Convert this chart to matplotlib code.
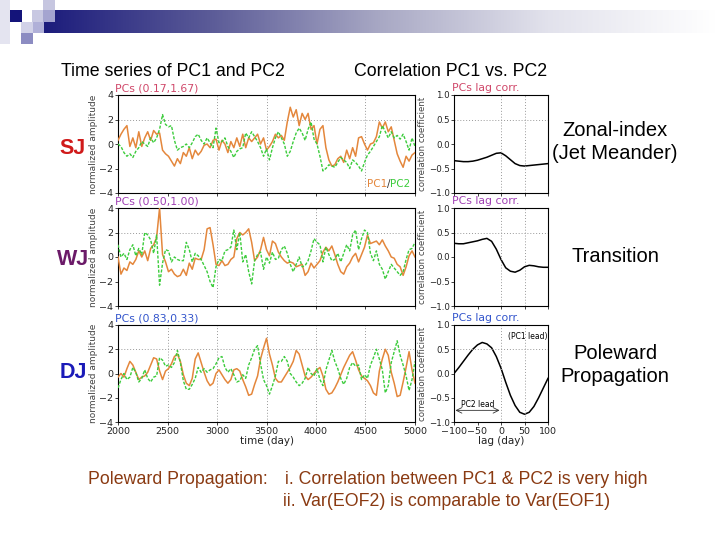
import numpy as np
import matplotlib
matplotlib.use("Agg")
import matplotlib.pyplot as plt
from matplotlib.patches import Rectangle
from matplotlib.colors import LinearSegmentedColormap

# time axis of the PC series (day) and lag axis of the correlations (day)
days = np.arange(2000, 5001, 30)
lags = np.arange(-100, 101, 10)

# SJ : PCs (0.17,1.67)
sj_pc1 = [0.3, 0.8, 1.2, 1.5, -0.2, 0.5, -0.3, 1.0, -0.2, 0.5,
          1.0, 0.3, 1.1, 0.8, 0.9, -0.5, -0.8, -1.0, -1.4, -1.8,
          -1.2, -1.6, -0.7, -1.0, -0.3, -1.2, -0.5, -0.9, -0.6, -0.1,
          0.0, -0.3, 0.3, 0.4, -0.5, 0.3, 0.0, -0.7, 0.2, -0.3,
          0.5, -0.2, 0.8, -0.3, 0.5, 0.2, 0.5, 0.8, 0.0, 0.5,
          -0.5, -0.2, 0.2, 0.8, 0.5, 0.7, 0.3, 1.8, 3.0, 2.2,
          2.8, 1.5, 2.5, 2.0, 2.5, 1.2, 1.5, 0.0, 1.2, 1.5,
          -0.3, -1.3, -1.8, -1.7, -1.2, -1.0, -1.5, -0.5, -1.2, -0.3,
          -1.0, 0.5, 0.6, 0.0, -0.5, 0.0, 0.1, 0.6, 1.8, 1.3,
          1.8, 1.0, 1.4, 0.3, -0.8, -1.4, -1.9, -1.0, -1.4, -0.9,
          -0.7]
sj_pc2 = [0.0, -0.2, -0.7, -1.0, -0.8, -1.1, -0.6, -0.3, 0.2, 0.0,
          -0.2, 0.5, 0.1, 0.5, 1.2, 2.4, 1.6, 1.4, 1.5, 0.3,
          -0.5, -0.3, -0.2, 0.0, -0.3, 0.1, 0.6, 0.8, 0.3, 0.0,
          0.5, 0.1, -0.3, 1.3, 0.1, 0.2, 0.5, -0.2, -0.6, -1.1,
          -0.6, -0.4, -0.3, 0.9, 0.5, 1.0, 0.6, 0.2, -0.3, -1.0,
          -0.4, -1.3, -0.3, 0.5, 1.0, 0.5, 0.0, -1.0, -0.6, 0.2,
          0.9, 1.3, 0.9, 0.3, 1.2, 1.8, 0.4, 0.0, -1.0, -2.2,
          -2.0, -1.7, -1.8, -1.9, -1.5, -1.1, -1.3, -1.5, -2.0, -1.3,
          -1.5, -1.8, -2.2, -1.5, -0.9, -0.6, -0.2, 0.2, 0.6, 1.5,
          1.0, 0.5, 1.0, 0.5, 0.7, 0.4, 0.8, 0.2, -0.5, 0.5,
          -0.2]
sj_corr = [-0.34, -0.35, -0.36, -0.36, -0.35, -0.33, -0.30, -0.27, -0.23, -0.19,
           -0.18, -0.24, -0.32, -0.40, -0.44, -0.45, -0.44, -0.43, -0.42, -0.41,
           -0.40]

# WJ : PCs (0.50,1.00)
wj_pc1 = [0.0, -1.4, -0.9, -1.1, -0.4, -0.6, -0.2, 0.5, 0.0, 0.5,
          -0.3, 0.7, 1.0, 1.6, 4.0, 0.2, -0.4, -1.2, -1.0, -1.4,
          -1.6, -1.5, -1.0, -1.5, -0.5, -1.0, -0.1, -0.2, -0.2, 0.6,
          2.3, 2.4, 1.0, -0.6, -0.7, -0.3, -0.7, -0.6, -0.2, 0.0,
          1.5, 2.0, 1.8, 2.0, 2.3, 1.2, -0.3, 0.0, 0.6, 1.6,
          0.6, 0.1, 1.3, 1.1, 0.4, 0.0, -0.3, -0.5, -0.4, -0.5,
          -0.8, -0.7, -0.6, -1.5, -1.2, -0.5, -0.9, -0.6, -0.3, 0.4,
          0.8, 0.5, 0.9, 0.2, -0.6, -1.2, -1.4, -0.8, -0.5, 0.0,
          0.3, -0.4, 0.2, 0.8, 1.8, 1.1, 1.2, 1.3, 1.0, 1.4,
          0.9, 0.5, 0.0, -0.1, -0.6, -0.8, -1.5, -0.8, 0.1, 0.5,
          0.0]
wj_pc2 = [1.0, 0.0, 0.3, -0.2, 0.6, 1.0, 0.1, 0.7, 0.2, 2.0,
          1.8, 1.4, 0.3, 1.8, -2.3, -0.5, 0.6, 0.5, -0.4, 0.0,
          -0.2, -0.3, -0.3, 1.2, 0.6, -0.4, 0.3, 0.1, -0.2, -0.7,
          -1.2, -2.0, -2.5, -0.8, -0.2, -0.3, 0.5, 0.6, 0.8, 2.2,
          0.6, 2.0, -0.4, 0.2, -1.2, -2.2, -0.3, 0.2, 0.4, -1.0,
          0.0, -0.5, 0.4, -0.2, -0.1, 0.6, 0.9, 0.3, -0.6, -1.2,
          -0.6, 0.0, -0.8, -0.7, -0.3, 0.5, 1.5, 1.2, 1.0, -0.4,
          0.8, 0.2, -0.3, -0.2, 0.3, -0.4, 0.3, 1.0, 0.5, 1.8,
          2.2, 0.6, 1.5, 2.2, 2.0, 0.3, -0.3, 0.5, -0.6, -1.0,
          -1.8, -1.2, -0.6, -0.9, -1.2, -1.5, -1.2, -0.2, 0.6, 0.7,
          1.2]
wj_corr = [0.28, 0.27, 0.27, 0.29, 0.31, 0.33, 0.36, 0.38, 0.32, 0.16,
           -0.05, -0.22, -0.29, -0.31, -0.27, -0.20, -0.17, -0.18, -0.20, -0.21,
           -0.21]

# DJ : PCs (0.83,0.33)
dj_pc1 = [-0.3, 0.0, -0.3, 0.4, 1.0, 0.7, 0.1, -0.5, -0.3, -0.2,
          0.1, 0.7, 1.3, 1.2, 0.2, -0.5, 0.2, 0.4, 0.8, 1.4,
          1.6, 1.0, -0.1, -0.8, -1.0, -0.4, 1.2, 1.7, 0.9, 0.1,
          -0.6, -1.0, -0.8, 0.0, 0.3, -0.1, -0.5, -0.8, -0.5, 0.3,
          0.4, 0.2, -0.5, -1.1, -1.8, -1.7, -0.9, -0.2, 1.2, 2.1,
          2.9, 1.6, 0.7, -0.4, -0.7, -0.7, -0.3, 0.1, 0.5, 1.0,
          1.9, 1.6, 0.7, -0.2, -0.5, -0.3, 0.0, 0.3, 0.5, -0.2,
          -1.3, -1.7, -1.6, -1.2, -0.7, -0.1, 0.5, 1.0, 1.5, 1.8,
          1.1, 0.3, -0.2, -0.4, -0.6, -1.0, -1.6, -1.8, 0.2, 1.2,
          2.0, 1.5, 0.1, -0.8, -1.9, -1.8, -0.7, 0.5, 1.8, 0.3,
          -0.8]
dj_pc2 = [-1.2, -0.5, 0.0, -0.5, -0.3, 0.5, 0.1, -0.7, -0.4, 0.3,
          -0.4, -0.7, -0.3, -0.2, 1.3, 1.1, 0.6, 0.7, 0.5, 0.9,
          1.9, 0.9, -0.6, -1.3, -1.3, -0.9, -0.4, 0.5, 0.1, 0.4,
          0.1, 0.3, 0.4, 0.8, 1.3, 1.4, 0.5, 0.1, 0.4, -0.1,
          -0.7, -0.6, -0.1, -0.4, 0.7, 1.3, 2.0, 2.3, 0.8, -0.5,
          -1.0, -1.7, -1.0, -0.2, 1.0, 1.0, 1.4, 1.0, 0.0, -0.3,
          -0.7, -1.0, -0.8, -0.4, 0.5, 0.0, -0.2, 0.4, -0.5, -1.0,
          0.3, 1.1, 1.9, 1.0, 0.4, -0.4, -0.9, -0.4, 0.5, 0.9,
          0.6, 0.7, -0.5, -0.1, -0.4, 0.7, 1.3, 2.0, 1.2, 0.3,
          -1.6, -1.0, 0.9, 1.8, 2.7, 1.5, 0.7, -0.2, -1.4, -0.5,
          1.0]
dj_corr = [0.00, 0.12, 0.25, 0.38, 0.50, 0.59, 0.64, 0.61, 0.53, 0.35,
           0.11, -0.18, -0.45, -0.66, -0.80, -0.84, -0.80, -0.68, -0.50, -0.30,
           -0.10]

regimes = ["SJ", "WJ", "DJ"]
pc_titles = ["PCs (0.17,1.67)", "PCs (0.50,1.00)", "PCs (0.83,0.33)"]
regime_notes = ["Zonal-index\n(Jet Meander)", "Transition", "Poleward\nPropagation"]
ts_yticks = [-4, -2, 0, 2, 4]
ts_xticks = [2000, 2500, 3000, 3500, 4000, 4500, 5000]
corr_yticks = [-1.0, -0.5, 0.0, 0.5, 1.0]
corr_xticks = [-100, -50, 0, 50, 100]

pc1_series = [sj_pc1, wj_pc1, dj_pc1]
pc2_series = [sj_pc2, wj_pc2, dj_pc2]
corr_series = [sj_corr, wj_corr, dj_corr]

W, H = 720, 540
SLIDE_FONT = ["Liberation Sans", "DejaVu Sans"]
ORANGE = "#e4873c"
GREEN = "#3ccc3c"
regime_colors = ["#d01a1a", "#6b1a68", "#1a1ab8"]
title_colors = ["#d0486a", "#a040b4", "#3355cc"]
vgrids = [[3000, 3500, 4500], [3000, 4000], [2500, 3000, 3500, 4000, 4500]]


def fx(x):
    return x / W


def fy(y):
    return 1 - y / H


fig = plt.figure(figsize=(7.2, 5.4), dpi=100)
fig.patch.set_facecolor("white")

# --- slide decoration (pixel coordinates) ---
bg = fig.add_axes([0, 0, 1, 1])
bg.set_xlim(0, W)
bg.set_ylim(H, 0)
bg.axis("off")
bar_cmap = LinearSegmentedColormap.from_list(
    "bar", ["#1c1c7c", "#5c5c98", "#a8a8c4", "#e2e2ec", "#ffffff"])
bg.imshow(np.linspace(0, 1, 256)[None, :], extent=(44, 716, 33, 10),
          cmap=bar_cmap, aspect="auto", zorder=1)
for x, y, w, h, c in [(0, 0, 10, 44, "#e4e4f0"), (43, 0, 12, 10, "#c6c6e0"),
                      (10, 10, 12, 12, "#14147a"), (32, 10, 12, 12, "#c8c8e2"),
                      (43, 10, 12, 12, "#a4a4d0"), (21, 22, 12, 11, "#d2d2e8"),
                      (33, 22, 11, 11, "#b0b0d8"), (21, 33, 12, 11, "#8c8cc2")]:
    bg.add_patch(Rectangle((x, y), w, h, color=c, lw=0, zorder=2))

fig.text(fx(173), fy(72), "Time series of PC1 and PC2", fontsize=12.8,
         family=SLIDE_FONT, ha="center", va="center")
fig.text(fx(451), fy(72), "Correlation PC1 vs. PC2", fontsize=12.8,
         family=SLIDE_FONT, ha="center", va="center")

rows = [(95, 193), (208, 306), (325, 422)]
note_y = [142, 256, 365]
label_y = [148, 260, 373]

for i, (top, bot) in enumerate(rows):
    hgt = (bot - top) / H
    last = i == len(rows) - 1

    # time series panel
    ax = fig.add_axes([fx(118), fy(bot), 297 / W, hgt])
    ax.plot(days, pc1_series[i], color=ORANGE, lw=1.1, zorder=3)
    ax.plot(days, pc2_series[i], color=GREEN, lw=1.0, ls=(0, (2.2, 1.2)), zorder=4)
    ax.set_xlim(2000, 5000)
    ax.set_ylim(-4, 4)
    ax.set_yticks(ts_yticks)
    ax.set_xticks(ts_xticks)
    for v in vgrids[i]:
        ax.axvline(v, color="#999999", lw=0.7, ls=(0, (1, 2)), zorder=1)
    ax.axhline(2, color="#999999", lw=0.7, ls=(0, (1, 2)), zorder=1)
    ax.tick_params(labelsize=6.8, length=2, width=0.6, pad=1.5, colors="#222222")
    if not last:
        ax.set_xticklabels([])
    else:
        ax.set_xlabel("time (day)", fontsize=7.5, labelpad=0, color="#222222")
    ax.set_ylabel("normalized amplitude", fontsize=6.5, color="#444444")
    ax.yaxis.set_label_coords(-0.066, 0.5)
    ax.text(-0.01, 1.02, pc_titles[i], transform=ax.transAxes, fontsize=7.8,
            color=title_colors[i], ha="left", va="bottom")
    if i == 0:
        ax.text(0.905, 0.09, "PC1", transform=ax.transAxes, fontsize=7.5,
                color=ORANGE, ha="right", va="center")
        ax.text(0.91, 0.09, "/", transform=ax.transAxes, fontsize=7.5,
                color="#333333", ha="center", va="center")
        ax.text(0.915, 0.09, "PC2", transform=ax.transAxes, fontsize=7.5,
                color=GREEN, ha="left", va="center")

    # lag correlation panel
    cx = fig.add_axes([fx(454), fy(bot), 94 / W, hgt])
    cx.plot(lags, corr_series[i], color="black", lw=1.1)
    cx.set_xlim(-100, 100)
    cx.set_ylim(-1, 1)
    cx.set_yticks(corr_yticks)
    cx.set_xticks(corr_xticks)
    cx.axvline(0, color="#999999", lw=0.7, ls=(0, (1, 2)))
    cx.axvline(50, color="#999999", lw=0.7, ls=(0, (1, 2)))
    cx.axhline(0.5, color="#999999", lw=0.7, ls=(0, (1, 2)))
    cx.tick_params(labelsize=6.8, length=2, width=0.6, pad=1.5, colors="#222222")
    cx.tick_params(axis="y", labelsize=6.2, pad=1)
    if not last:
        cx.set_xticklabels([])
    else:
        cx.set_xlabel("lag (day)", fontsize=7.5, labelpad=0, color="#222222")
        cx.annotate("", xy=(-97, -0.76), xytext=(-3, -0.76),
                    arrowprops=dict(arrowstyle="<->", lw=0.6, color="#333333",
                                    shrinkA=0, shrinkB=0))
        cx.text(-50, -0.64, "PC2 lead", fontsize=5.5, ha="center", va="center")
        cx.text(57, 0.76, "(PC1 lead)", fontsize=5.5, ha="center", va="center")
    cx.set_ylabel("correlation coefficient", fontsize=6.2, color="#444444")
    cx.yaxis.set_label_coords(-0.29, 0.5)
    cx.text(-0.02, 1.02, "PCs lag corr.", transform=cx.transAxes, fontsize=7.8,
            color=title_colors[i], ha="left", va="bottom")

    fig.text(fx(73), fy(label_y[i]), regimes[i], fontsize=15.5, fontweight="bold",
             family=SLIDE_FONT, color=regime_colors[i], ha="center", va="center")
    fig.text(fx(615), fy(note_y[i]), regime_notes[i], fontsize=14.5,
             family=SLIDE_FONT, ha="center", va="center", linespacing=1.3)

BROWN = "#8a3a12"
fig.text(fx(88), fy(479), "Poleward Propagation:", fontsize=12.8, family=SLIDE_FONT,
         color=BROWN, ha="left", va="center")
fig.text(fx(285), fy(479), "i. Correlation between PC1 & PC2 is very high",
         fontsize=12.8, family=SLIDE_FONT, color=BROWN, ha="left", va="center")
fig.text(fx(283), fy(501), "ii. Var(EOF2) is comparable to Var(EOF1)",
         fontsize=12.8, family=SLIDE_FONT, color=BROWN, ha="left", va="center")

fig.savefig("out.png", dpi=100)
